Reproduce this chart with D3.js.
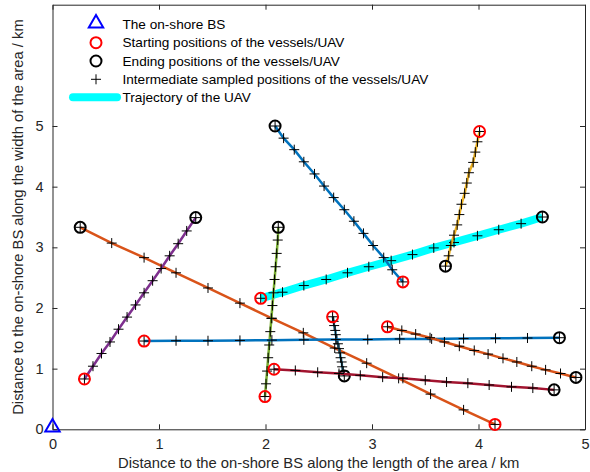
<!DOCTYPE html>
<html>
<head>
<meta charset="utf-8">
<script src="https://cdn.jsdelivr.net/npm/d3@7"></script>
<style>
  body { margin: 0; background: #fff; }
  svg { font-family: "Liberation Sans", Arial, sans-serif; }
</style>
</head>
<body>
<div id="chart"></div>
<script>
// tracks: first point = start (red circle), last point = end (black circle)
const uavPath = [[1.955,2.16],[2.16,2.26],[2.36,2.37],[2.57,2.47],[2.77,2.58],[2.97,2.68],[3.18,2.78],[3.38,2.88],[3.58,2.99],[3.77,3.08],[3.99,3.19],[4.19,3.29],[4.40,3.39],[4.60,3.50]];

const vesselBlue1 = [[3.29,2.43],[3.19,2.63],[3.11,2.83],[3.01,3.03],[2.92,3.23],[2.83,3.43],[2.74,3.62],[2.64,3.82],[2.55,4.01],[2.46,4.21],[2.36,4.41],[2.27,4.61],[2.17,4.80],[2.09,5.00]];
const vesselOrange1 = [[4.155,0.08],[3.86,0.32],[3.55,0.58],[3.25,0.84],[2.95,1.09],[2.65,1.34],[2.355,1.59],[2.06,1.83],[1.76,2.08],[1.46,2.33],[1.16,2.58],[0.86,2.83],[0.556,3.07],[0.26,3.33]];
const vesselYellow = [[4.01,4.91],[3.99,4.74],[3.97,4.57],[3.95,4.40],[3.91,4.23],[3.89,4.06],[3.87,3.89],[3.84,3.71],[3.82,3.54],[3.80,3.37],[3.77,3.20],[3.74,3.03],[3.72,2.86],[3.69,2.69]];
const vesselPurple = [[0.30,0.83],[0.38,1.04],[0.46,1.25],[0.54,1.44],[0.62,1.65],[0.70,1.85],[0.78,2.05],[0.86,2.25],[0.94,2.45],[1.02,2.65],[1.10,2.86],[1.18,3.06],[1.26,3.27],[1.345,3.49]];
const vesselGreen = [[1.995,0.54],[2.005,0.75],[2.015,0.96],[2.025,1.18],[2.035,1.39],[2.045,1.61],[2.055,1.83],[2.065,2.04],[2.075,2.25],[2.085,2.47],[2.095,2.68],[2.105,2.90],[2.115,3.12],[2.12,3.33]];
const vesselLightBlue = [[2.63,1.855],[2.64,1.78],[2.645,1.71],[2.655,1.63],[2.66,1.56],[2.67,1.48],[2.68,1.41],[2.69,1.33],[2.70,1.26],[2.705,1.18],[2.715,1.11],[2.72,1.03],[2.73,0.96],[2.74,0.88]];
const vesselDarkRed = [[2.08,0.99],[2.28,0.97],[2.49,0.94],[2.69,0.92],[2.89,0.89],[3.10,0.86],[3.29,0.84],[3.50,0.81],[3.70,0.78],[3.90,0.76],[4.10,0.73],[4.31,0.70],[4.51,0.68],[4.71,0.65]];
const vesselBlue2 = [[0.86,1.455],[1.16,1.46],[1.46,1.46],[1.76,1.465],[2.06,1.47],[2.36,1.475],[2.66,1.48],[2.96,1.48],[3.26,1.49],[3.56,1.49],[3.86,1.495],[4.16,1.50],[4.46,1.505],[4.76,1.51]];
const vesselOrange2 = [[3.145,1.69],[3.28,1.63],[3.41,1.57],[3.545,1.51],[3.68,1.44],[3.82,1.37],[3.96,1.30],[4.09,1.24],[4.23,1.17],[4.36,1.11],[4.50,1.04],[4.63,0.98],[4.77,0.92],[4.915,0.855]];

const vessels = [vesselBlue1, vesselOrange1, vesselYellow, vesselPurple, vesselGreen, vesselLightBlue, vesselDarkRed, vesselBlue2, vesselOrange2];
const vesselColors = ["#0072BD", "#D95319", "#EDB120", "#7E2F8E", "#77AC30", "#4DBEEE", "#A2142F", "#0072BD", "#D95319"];

const bsPos = [0, 0];
const xTicks = [0, 1, 2, 3, 4, 5];
const yTicks = [0, 1, 2, 3, 4, 5];
const legendLabels = [
  "The on-shore BS",
  "Starting positions of the vessels/UAV",
  "Ending positions of the vessels/UAV",
  "Intermediate sampled positions of the vessels/UAV",
  "Trajectory of the UAV"
];

function init() {
  var w = 590, h = 472;
  var left = 52.5, right = 585, top = 4.7, bottom = 429.3;
  var axisColor = "#262626";

  var svg = d3.select("#chart").append("svg")
    .attr("width", w)
    .attr("height", h);

  var x = d3.scaleLinear().domain([0, 5]).range([left, right]);
  var y = d3.scaleLinear().domain([0, 7]).range([bottom, top]);

  var line = d3.line().x(d => x(d[0])).y(d => y(d[1]));

  // ticks inside, box on
  svg.append("g").attr("transform", `translate(0,${bottom})`)
    .call(d3.axisBottom(x).tickValues(xTicks).tickSizeInner(-5).tickSizeOuter(0).tickPadding(9).tickFormat(d3.format("d")));
  svg.append("g").attr("transform", `translate(0,${top})`)
    .call(d3.axisTop(x).tickValues(xTicks).tickSizeInner(-5).tickSizeOuter(0).tickFormat(""));
  svg.append("g").attr("transform", `translate(${left},0)`)
    .call(d3.axisLeft(y).tickValues(yTicks).tickSizeInner(-5).tickSizeOuter(0).tickPadding(9).tickFormat(d3.format("d")));
  svg.append("g").attr("transform", `translate(${right},0)`)
    .call(d3.axisRight(y).tickValues(yTicks).tickSizeInner(-5).tickSizeOuter(0).tickFormat(""));

  svg.selectAll(".domain").attr("stroke", axisColor);
  svg.selectAll(".tick line").attr("stroke", axisColor);
  svg.selectAll(".tick text").attr("fill", axisColor).style("font-size", "14.5px");

  svg.append("text")
    .attr("x", (left + right) / 2)
    .attr("y", 468)
    .attr("text-anchor", "middle")
    .attr("fill", axisColor)
    .style("font-size", "14.8px")
    .text("Distance to the on-shore BS along the length of the area / km");

  svg.append("text")
    .attr("transform", "rotate(-90)")
    .attr("x", -(top + bottom) / 2)
    .attr("y", 23)
    .attr("text-anchor", "middle")
    .attr("fill", axisColor)
    .style("font-size", "14.8px")
    .text("Distance to the on-shore BS along the width of the area / km");

  var plot = svg.append("g");

  function plusPath(px, py, r) {
    return `M${px - r},${py}H${px + r}M${px},${py - r}V${py + r}`;
  }

  function drawTrack(pts, color, width) {
    plot.append("path")
      .datum(pts)
      .attr("d", line)
      .attr("fill", "none")
      .attr("stroke", color)
      .attr("stroke-width", width);
    plot.selectAll(null)
      .data(pts)
      .enter().append("path")
      .attr("d", d => plusPath(x(d[0]), y(d[1]), 5))
      .attr("stroke", "#000")
      .attr("stroke-width", 1);
    plot.append("circle")
      .attr("cx", x(pts[0][0])).attr("cy", y(pts[0][1])).attr("r", 5.5)
      .attr("fill", "none").attr("stroke", "#ff0000").attr("stroke-width", 2);
    plot.append("circle")
      .attr("cx", x(pts[pts.length - 1][0])).attr("cy", y(pts[pts.length - 1][1])).attr("r", 5.5)
      .attr("fill", "none").attr("stroke", "#000").attr("stroke-width", 2);
  }

  drawTrack(uavPath, "#00FFFF", 8);
  vessels.forEach((v, i) => drawTrack(v, vesselColors[i], 2.5));

  // on-shore BS
  var tri = d3.symbol().type(d3.symbolTriangle).size(90);
  svg.append("path")
    .attr("d", tri())
    .attr("transform", `translate(${x(bsPos[0])},${y(bsPos[1]) - 2})`)
    .attr("fill", "none")
    .attr("stroke", "#0000ff")
    .attr("stroke-width", 2);

  // legend
  var lg = svg.append("g");
  var rowY = [24.3, 42.7, 61, 79.3, 97.3];
  var mx = 96;
  lg.append("path").attr("d", tri()).attr("transform", `translate(${mx},${rowY[0] - 1})`)
    .attr("fill", "none").attr("stroke", "#0000ff").attr("stroke-width", 2);
  lg.append("circle").attr("cx", mx).attr("cy", rowY[1]).attr("r", 5.5)
    .attr("fill", "none").attr("stroke", "#ff0000").attr("stroke-width", 2);
  lg.append("circle").attr("cx", mx).attr("cy", rowY[2]).attr("r", 5.5)
    .attr("fill", "none").attr("stroke", "#000").attr("stroke-width", 2);
  lg.append("path").attr("d", plusPath(mx, rowY[3], 5)).attr("stroke", "#000").attr("stroke-width", 1);
  lg.append("line").attr("x1", 73).attr("x2", 117).attr("y1", rowY[4]).attr("y2", rowY[4])
    .attr("stroke", "#00FFFF").attr("stroke-width", 8).attr("stroke-linecap", "round");

  lg.selectAll("text.lab")
    .data(legendLabels)
    .enter().append("text")
    .attr("class", "lab")
    .attr("x", 122.5)
    .attr("y", (d, i) => rowY[i])
    .attr("dy", "0.35em")
    .attr("fill", "#000")
    .style("font-size", "13.6px")
    .text(d => d);
}

window.onload = init;
</script>
</body>
</html>
